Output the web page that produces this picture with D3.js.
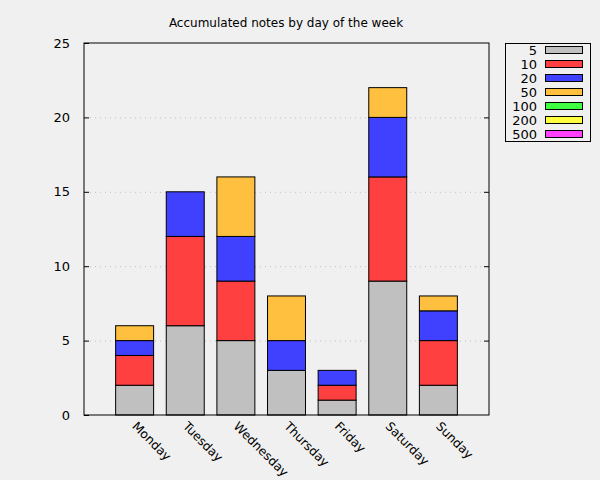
<!DOCTYPE html>
<html><head><meta charset="utf-8">
<script src="https://cdn.jsdelivr.net/npm/d3@7"></script>
<style>body{margin:0;background:#f0f0f0;font-family:"DejaVu Sans",sans-serif;}</style>
</head><body><svg id="c" width="600" height="480"></svg>
<script>
const days = ["Monday","Tuesday","Wednesday","Thursday","Friday","Saturday","Sunday"];
const notes = ["5","10","20","50","100","200","500"];
const colors = ["#c0c0c0","#ff4040","#4040ff","#ffc040","#40ff40","#ffff40","#ff40ff"];
const v5   = [2,6,5,3,1,9,2];
const v10  = [2,6,4,0,1,7,3];
const v20  = [1,3,3,2,1,4,2];
const v50  = [1,0,4,3,0,2,1];
const v100 = [0,0,0,0,0,0,0];
const v200 = [0,0,0,0,0,0,0];
const v500 = [0,0,0,0,0,0,0];
const yTicks = [0,5,10,15,20,25];
const title = "Accumulated notes by day of the week";

const series = [v5,v10,v20,v50,v100,v200,v500];
const data = days.map((d,i)=>{const o={day:d,idx:i+1}; notes.forEach((n,k)=>o[n]=series[k][i]); return o;});
const stack = d3.stack().keys(notes)(data);

const svg = d3.select("#c");
svg.append("rect").attr("width",600).attr("height",480).attr("fill","#f0f0f0");
const L=84,R=489,T=43,B=415;
const x = d3.scaleLinear().domain([0,8]).range([L,R]);
const y = d3.scaleLinear().domain([0,25]).range([B,T]);
const bw = (x(1)-x(0))*0.75;

// grid
svg.append("g").selectAll("line").data(yTicks.filter(t=>t>0&&t<25)).join("line")
  .attr("x1",L+6).attr("x2",R-6).attr("y1",d=>y(d)+0.5).attr("y2",d=>y(d)+0.5)
  .attr("stroke","#c0c0c0").attr("stroke-width",1).attr("stroke-dasharray","1,4");

// bars
stack.forEach((s,k)=>{
  svg.append("g").selectAll("rect").data(s.filter(d=>d[1]-d[0]>0)).join("rect")
    .attr("x",d=>x(d.data.idx)-bw/2).attr("width",bw)
    .attr("y",d=>y(d[1])).attr("height",d=>y(d[0])-y(d[1]))
    .attr("fill",colors[k]).attr("stroke","#000").attr("stroke-width",1);
});

// axes
const yl = d3.axisLeft(y).tickValues(yTicks).tickSize(-5).tickPadding(14);
const gl = svg.append("g").attr("transform",`translate(${L},0)`).call(yl);
gl.select(".domain").remove();
gl.selectAll("text").attr("font-size",13).attr("font-family","DejaVu Sans").attr("fill","#000");
gl.selectAll("line").attr("stroke","#000");
const yr = d3.axisRight(y).tickValues(yTicks.filter(t=>t>0&&t<25)).tickSize(-5).tickFormat("");
const gr = svg.append("g").attr("transform",`translate(${R},0)`).call(yr);
gr.select(".domain").remove();
gr.selectAll("line").attr("stroke","#000");

svg.append("rect").attr("x",L).attr("y",T).attr("width",R-L).attr("height",B-T)
  .attr("fill","none").attr("stroke","#000").attr("stroke-width",1);

// x labels
svg.append("g").selectAll("text").data(days).join("text")
  .attr("transform",(d,i)=>`translate(${x(i+1)},${B+9}) rotate(45)`)
  .attr("font-size",12.3).attr("font-family","DejaVu Sans").attr("dy","0.35em").text(d=>d);

// title
svg.append("text").attr("x",286).attr("y",27).attr("text-anchor","middle")
  .attr("font-size",12).attr("font-family","DejaVu Sans").text(title);

// legend
svg.append("rect").attr("x",505.5).attr("y",43.5).attr("width",85).attr("height",98)
  .attr("fill","none").attr("stroke","#000");
const lg = svg.append("g").selectAll("g").data(notes).join("g")
  .attr("transform",(d,i)=>`translate(0,${50+i*14})`);
lg.append("text").attr("x",537).attr("dy","0.35em").attr("text-anchor","end")
  .attr("font-size",13).attr("font-family","DejaVu Sans").text(d=>d);
lg.append("rect").attr("x",545.5).attr("y",-3.5).attr("width",37).attr("height",7)
  .attr("fill",(d,i)=>colors[i]).attr("stroke","#000");
</script></body></html>
